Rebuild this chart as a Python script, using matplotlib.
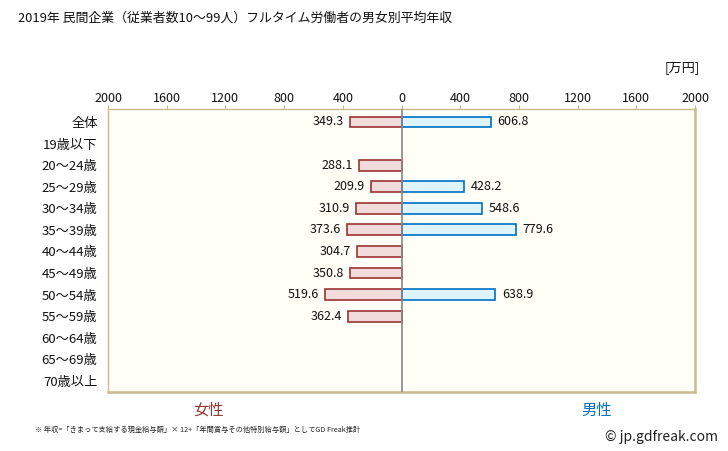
import numpy as np
import matplotlib
matplotlib.use("Agg")
import matplotlib.pyplot as plt

plt.rcParams['font.family'] = ['Noto Sans CJK JP', 'DejaVu Sans']

categories = ["全体", "19歳以下", "20～24歳", "25～29歳", "30～34歳", "35～39歳",
              "40～44歳", "45～49歳", "50～54歳", "55～59歳", "60～64歳", "65～69歳", "70歳以上"]
female = [349.3, np.nan, 288.1, 209.9, 310.9, 373.6, 304.7, 350.8, 519.6, 362.4, np.nan, np.nan, np.nan]
male = [606.8, np.nan, np.nan, 428.2, 548.6, 779.6, np.nan, np.nan, 638.9, np.nan, np.nan, np.nan, np.nan]
xticks = [-2000, -1600, -1200, -800, -400, 0, 400, 800, 1200, 1600, 2000]
xticklabels = ["2000", "1600", "1200", "800", "400", "0", "400", "800", "1200", "1600", "2000"]

W, H = 728, 451
fig = plt.figure(figsize=(W / 100, H / 100), dpi=100)
ax = fig.add_axes([108 / W, 1 - 392 / H, (695 - 108) / W, (392 - 109) / H])
ax.set_facecolor("#fffff8")

border = "#c8bc8c"
for side in ["top", "bottom", "left", "right"]:
    ax.spines[side].set_color(border)
ax.spines["top"].set_linewidth(1.0)
ax.spines["left"].set_linewidth(1.0)
ax.spines["bottom"].set_linewidth(1.8)
ax.spines["right"].set_linewidth(1.8)

y = np.arange(len(categories))
f = np.array(female, dtype=float)
m = np.array(male, dtype=float)
fmask = ~np.isnan(f)
mmask = ~np.isnan(m)
ax.barh(y[fmask], -f[fmask], height=0.5, color="#f2dcdb", edgecolor="#9b3333", linewidth=1.2, zorder=2)
ax.barh(y[mmask], m[mmask], height=0.5, color="#ddf3fd", edgecolor="#0070c0", linewidth=1.2, zorder=2)
ax.axvline(0, color="#888888", linewidth=1.2, zorder=3)

for yi, v in zip(y[fmask], f[fmask]):
    ax.text(-v - 40, yi, f"{v:.1f}", ha="right", va="center", fontsize=9, color="#111111")
for yi, v in zip(y[mmask], m[mmask]):
    ax.text(v + 45, yi, f"{v:.1f}", ha="left", va="center", fontsize=9, color="#111111")

ax.set_xlim(-2000, 2000)
ax.set_ylim(12.51, -0.6)
ax.xaxis.tick_top()
ax.set_xticks(xticks)
ax.set_xticklabels(xticklabels, fontsize=9, color="#111111")
ax.tick_params(axis="x", length=3, color=border, pad=0)
ax.set_yticks(y)
ax.set_yticklabels(categories, fontsize=9.5, color="#111111")
ax.tick_params(axis="y", length=0, pad=7.5)

fig.text(18 / W, 1 - 18 / H, "2019年 民間企業（従業者数10～99人）フルタイム労働者の男女別平均年収",
         ha="left", va="center", fontsize=9.3, color="#111111")
fig.text(682 / W, 1 - 68 / H, "[万円]", ha="center", va="center", fontsize=9.5, color="#111111")
fig.text(208 / W, 1 - 410 / H, "女性", ha="center", va="center", fontsize=11, color="#953735")
fig.text(597 / W, 1 - 410 / H, "男性", ha="center", va="center", fontsize=11, color="#0070c0")
fig.text(35 / W, 1 - 430 / H,
         "※ 年収=「きまって支給する現金給与額」× 12+「年間賞与その他特別給与額」としてGD Freak推計",
         ha="left", va="center", fontsize=5.2, color="#222222")
fig.text(718 / W, 1 - 437 / H, "© jp.gdfreak.com", ha="right", va="center",
         fontsize=10, color="#222222")

fig.savefig("out.png", dpi=100)
